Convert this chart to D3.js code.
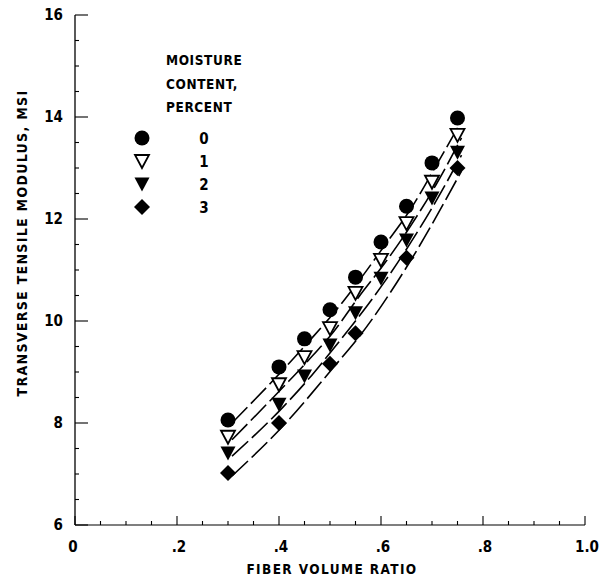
<!DOCTYPE html>
<html><head><meta charset="utf-8">
<script src="https://cdn.jsdelivr.net/npm/d3@7"></script>
<style>
body{margin:0;background:#fff;}
text{font-family:"DejaVu Sans Condensed","DejaVu Sans",sans-serif;fill:#000;}
</style></head>
<body><svg id="chart" width="611" height="580"></svg>
<script>
const fiberRatio = [0.3, 0.4, 0.45, 0.5, 0.55, 0.6, 0.65, 0.7, 0.75];
const moisture0 = [8.06, 9.10, 9.65, 10.22, 10.86, 11.55, 12.25, 13.10, 13.98];
const moisture1 = [7.73, 8.76, 9.29, 9.86, 10.55, 11.20, 11.92, 12.73, 13.65];
const moisture2 = [7.41, 8.37, 8.92, 9.53, 10.16, 10.84, 11.59, 12.41, 13.31];
const fiberRatio3 = [0.3, 0.4, 0.5, 0.55, 0.65, 0.75];
const moisture3 = [7.02, 8.00, 9.16, 9.76, 11.24, 13.00];
const legendLabels = ["0", "1", "2", "3"];
const xTicks = [0, 0.2, 0.4, 0.6, 0.8, 1.0];
const xTickLabels = ["0", ".2", ".4", ".6", ".8", "1.0"];
const yTicks = [6, 8, 10, 12, 14, 16];

const series = [
  {x: fiberRatio, y: moisture0, sym: "circle"},
  {x: fiberRatio, y: moisture1, sym: "tri-open"},
  {x: fiberRatio, y: moisture2, sym: "tri-filled"},
  {x: fiberRatio3, y: moisture3, sym: "diamond"}
];

const svg = d3.select("#chart");
const x = d3.scaleLinear().domain([0, 1.0]).range([75, 585]);
const y = d3.scaleLinear().domain([6, 16]).range([525, 15]);

// axes lines
svg.append("line").attr("x1", x(0)).attr("x2", x(0)).attr("y1", y(6)).attr("y2", y(16))
  .attr("stroke", "#000").attr("stroke-width", 1.3);
svg.append("line").attr("x1", x(0)).attr("x2", x(1)).attr("y1", y(6)).attr("y2", y(6))
  .attr("stroke", "#000").attr("stroke-width", 1.1);

// y ticks
const yMinor = d3.range(6, 16.01, 0.5);
svg.selectAll(".ytick").data(yMinor).enter().append("line")
  .attr("x1", x(0)).attr("x2", d => x(0) + (Number.isInteger(d/2) ? 13 : 4))
  .attr("y1", d => y(d)).attr("y2", d => y(d)).attr("stroke", "#000").attr("stroke-width", 1.1);
svg.selectAll(".ylab").data(yTicks).enter().append("text")
  .attr("x", 63).attr("y", d => y(d) + 5).attr("text-anchor", "end")
  .attr("font-size", 15).attr("font-weight", "bold").text(d => d);

// x ticks
const xMinor = d3.range(0, 1.001, 0.05);
svg.selectAll(".xtick").data(xMinor).enter().append("line")
  .attr("x1", d => x(d)).attr("x2", d => x(d))
  .attr("y1", y(6)).attr("y2", d => y(6) - (Math.abs(d*5 - Math.round(d*5)) < 1e-6 ? 9 : 4))
  .attr("stroke", "#000").attr("stroke-width", 1.1);
svg.selectAll(".xlab").data(xTicks).enter().append("text")
  .attr("x", (d,i) => x(d) + (i === 0 ? -2 : 2)).attr("y", 552).attr("text-anchor", "middle")
  .attr("font-size", 15).attr("font-weight", "bold").text((d,i) => xTickLabels[i]);

// titles
svg.append("text").attr("x", 332).attr("y", 574).attr("text-anchor", "middle")
  .attr("font-size", 13.5).attr("font-weight", "bold").attr("letter-spacing", 1.4).text("FIBER VOLUME RATIO");
svg.append("text").attr("transform", "translate(27,243) rotate(-90)").attr("text-anchor", "middle")
  .attr("font-size", 14).attr("font-weight", "bold").attr("letter-spacing", 1.3).text("TRANSVERSE TENSILE MODULUS, MSI");

// lines
const line = d3.line().x(d => x(d[0])).y(d => y(d[1])).curve(d3.curveMonotoneX);
series.forEach(s => {
  const pts = s.x.map((v, i) => [v, s.y[i]]);
  svg.append("path").attr("d", line(pts)).attr("fill", "none").attr("stroke", "#000")
    .attr("stroke-width", 1.6).attr("stroke-dasharray", "22,5")
    .attr("transform", "translate(4,3)");
});

function drawSym(g, sym, cx, cy) {
  if (sym === "circle") {
    g.append("circle").attr("cx", cx).attr("cy", cy).attr("r", 7.5).attr("fill", "#000");
  } else if (sym === "tri-open") {
    g.append("path").attr("d", `M${cx-7},${cy-6}L${cx+7},${cy-6}L${cx},${cy+7}Z`)
      .attr("fill", "#fff").attr("stroke", "#000").attr("stroke-width", 1.8);
  } else if (sym === "tri-filled") {
    g.append("path").attr("d", `M${cx-7.5},${cy-6.5}L${cx+7.5},${cy-6.5}L${cx},${cy+7.5}Z`)
      .attr("fill", "#000");
  } else {
    g.append("path").attr("d", `M${cx},${cy-8}L${cx+8},${cy}L${cx},${cy+8}L${cx-8},${cy}Z`)
      .attr("fill", "#000");
  }
}
const mg = svg.append("g");
series.forEach(s => {
  s.x.forEach((v, i) => drawSym(mg, s.sym, x(v), y(s.y[i])));
});

// legend
const lg = svg.append("g");
["MOISTURE", "CONTENT,", "PERCENT"].forEach((t, i) => {
  lg.append("text").attr("x", 166).attr("y", 65 + i * 23.5).attr("font-size", 13.5)
    .attr("font-weight", "bold").attr("letter-spacing", 0.6).text(t);
});
series.forEach((s, i) => {
  const cy = 138 + i * 23;
  drawSym(lg, s.sym, 142, cy);
  lg.append("text").attr("x", 204).attr("y", cy + 6).attr("text-anchor", "middle")
    .attr("font-size", 15).attr("font-weight", "bold").text(legendLabels[i]);
});
</script></body></html>
